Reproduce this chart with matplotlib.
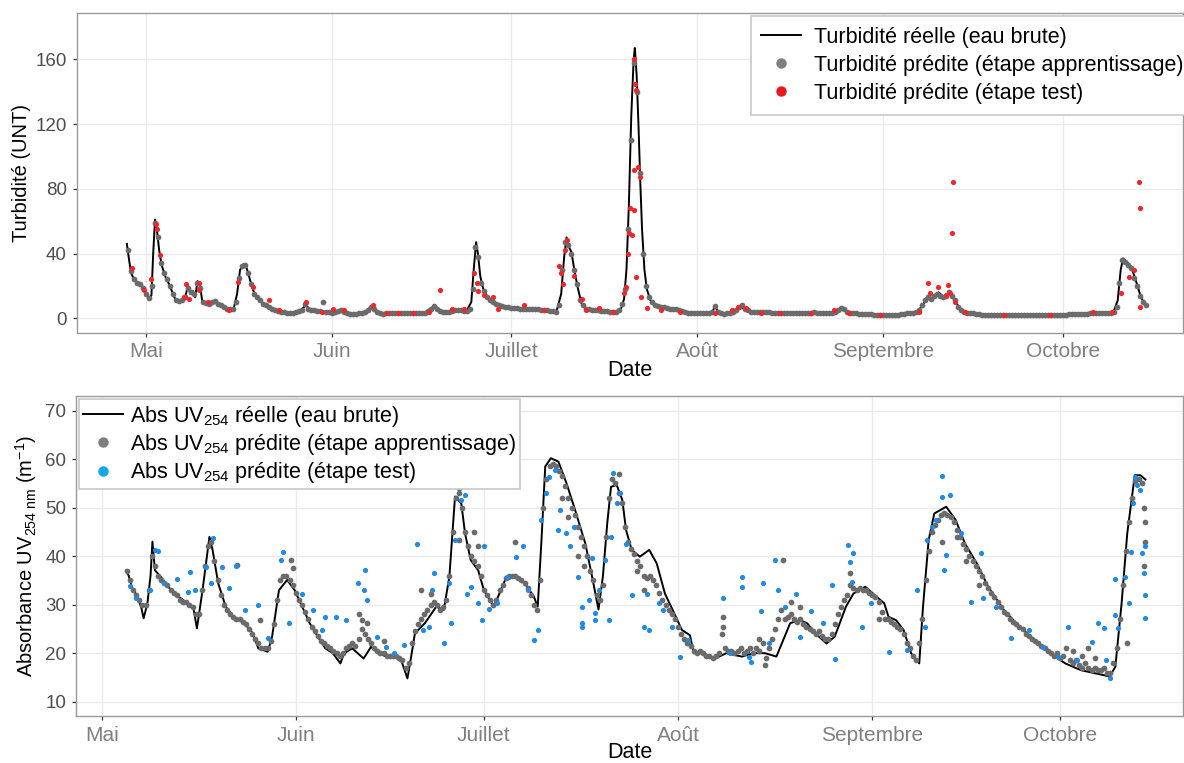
import numpy as np
import matplotlib
matplotlib.use("Agg")
import matplotlib.pyplot as plt
from matplotlib.lines import Line2D

plt.rcParams['font.family'] = ['Liberation Sans', 'DejaVu Sans']
plt.rcParams['mathtext.fontset'] = 'custom'
plt.rcParams['mathtext.rm'] = 'Liberation Sans'
plt.rcParams['mathtext.it'] = 'Liberation Sans:italic'
plt.rcParams['mathtext.bf'] = 'Liberation Sans:bold'

# ---------------- data (x = days since 1 May) ----------------
month_ticks = [0, 31, 61, 92, 123, 153]
month_labels = ["Mai", "Juin", "Juillet", "Août", "Septembre", "Octobre"]

turb_real_days = [-3.2, -2.9, -2.5, -2.0, -1.5, -1.0, -0.5, 0.0, 0.5, 0.9, 1.2, 1.5, 1.8, 2.2, 2.6, 3.2,
                  4.0, 4.6, 5.0, 6.0, 6.6, 7.0, 7.4, 7.8, 8.2, 8.6, 9.0, 9.4, 10.5, 11.4, 12.5, 13.3,
                  14.6, 15.2, 15.7, 16.3, 16.8, 17.5, 18.2, 19.0, 20.3, 21.5, 22.5, 24.0, 25.5, 26.7,
                  27.5, 29.0, 30.0, 31.0, 32.5, 33.5, 35.0, 36.5, 37.5, 38.3, 39.5, 41.0, 43.0, 45.0,
                  46.5, 47.5, 48.2, 49.1, 50.5, 52.0, 53.5, 54.3, 54.7, 55.1, 55.4, 55.8, 56.3, 57.0,
                  58.0, 59.0, 60.0, 61.5, 63.0, 65.0, 67.0, 68.5, 69.3, 69.8, 70.2, 70.6, 71.0, 71.5,
                  72.0, 72.7, 73.5, 75.0, 77.0, 78.5, 79.3, 79.8, 80.2, 80.6, 81.0, 81.4, 81.6, 81.9,
                  82.2, 82.5, 82.8, 83.2, 83.6, 84.2, 85.0, 86.0, 87.0, 88.5, 90.0, 91.5, 93.0, 94.5,
                  95.0, 95.5, 96.5, 98.0, 99.2, 100.0, 101.3, 103.0, 105.0, 107.0, 109.0, 111.0,
                  113.0, 115.0, 116.2, 117.0, 118.5, 120.0, 122.0, 124.0, 126.0, 128.0, 129.0, 129.8,
                  130.5, 131.3, 132.3, 133.2, 134.2, 134.8, 135.5, 136.3, 137.5, 140.0, 143.0, 146.0,
                  149.0, 152.0, 154.0, 156.0, 158.0, 160.0, 161.5, 162.2, 162.7, 163.1, 163.7, 164.4,
                  165.0, 165.5, 166.0, 166.5, 167.0]
turb_real = [46, 38, 28, 24, 22, 20.5, 19, 15, 12.5, 14, 40, 61, 55, 42, 33, 26,
             20, 14, 11, 10.5, 14, 20, 15, 17, 13, 23, 21, 10, 9.5, 10.5, 8, 6,
             5.5, 15, 30, 33.5, 31, 22, 14, 11, 7, 5, 4, 3.5, 4, 8,
             5, 4.5, 4, 3.5, 5, 3, 2.5, 3.5, 7, 5, 2.5, 3, 3, 3,
             3.5, 6, 8, 4, 4, 5, 4.5, 10, 30, 47, 40, 26, 18, 13,
             10, 8, 7, 6.5, 6, 5.5, 5, 4, 15, 38, 50, 44, 41, 30,
             20, 9, 6, 5, 4.5, 4, 6, 12, 30, 70, 125, 160, 167, 150,
             120, 85, 55, 30, 18, 11, 8, 7, 6.5, 5.5, 4, 3, 3, 3.5,
             8, 3.5, 2.5, 3.5, 7.5, 5, 4, 4, 3.5, 3.5, 3, 3.5,
             3, 3.5, 6.5, 4, 3, 2.5, 2, 2, 2.5, 3.5, 5, 9,
             14, 12, 16, 13, 16, 12, 8, 4, 3, 2.5, 2, 2,
             2, 2, 2.5, 2.5, 3, 3, 4, 11, 30, 37, 35, 32,
             26, 20, 14, 10, 8]

# Turbidity: predictions, training stage (every 12 h from day -3)
turb_train_start, turb_train_step = -3.0, 0.5
turb_train = [42, 29, 24, 22, 21, 19, 15, 12.5, 20, 59,
              50, 34, 28, 24, 20, 15, 11, 10.5, 11, 13,
              19, 16, 15, 22, 19, 10, 9.5, 9, 10, 10.5,
              9, 8, 7, 6, 5.5, 5.5, 10, 25, 32, 33,
              28, 21, 15, 13, 11, 9, 8, 7, 5.5, 5,
              4.5, 4, 4, 3.5, 3.5, 3.5, 4, 4.5, 5, 9,
              6, 5, 5, 4.5, 4.5, 10, 4, 4, 3.5, 4,
              4.5, 5, 4, 3, 2.5, 2.5, 2.5, 3, 3, 4,
              5, 7, 6, 4, 3, 2.5, 3, 3, 3, 3,
              3, 3, 3, 3, 3, 3, 3, 3, 3, 3.5,
              4.5, 6, 7.5, 6, 4.5, 4, 4, 4, 4.5, 5,
              5, 5, 4.5, 4.5, 6, 18, 44, 38, 22, 17,
              13, 11, 10, 9, 8, 7.5, 7, 7, 6.5, 6.5,
              6.5, 6, 6, 6, 5.5, 5.5, 5.5, 5.5, 5, 5,
              5, 4.5, 4.5, 4, 8, 30, 47, 45, 40, 30,
              21, 11, 8, 6, 5.5, 5, 5, 5, 4.5, 4.5,
              4.5, 4, 4, 4, 5, 9, 18, 55, 110, 158,
              140, 90, 40, 20, 13, 10, 8, 7.5, 7, 7,
              6.5, 6, 6, 5.5, 5, 4.5, 4, 3.5, 3, 3,
              3, 3, 3, 3, 3.5, 4, 7.5, 4, 3, 2.5,
              3, 3.5, 4, 5, 7, 8, 6, 5, 4, 4,
              4, 4, 4, 4, 4, 3.5, 3.5, 3.5, 3.5, 3.5,
              3.5, 3.5, 3.5, 3.5, 3.5, 3.5, 3.5, 3.5, 3.5, 4,
              3.5, 3, 3, 3, 3.5, 3.5, 4, 5, 6.5, 5.5,
              4, 3.5, 3, 3, 2.5, 2.5, 2.5, 2.5, 2.5, 2,
              2, 2, 2, 2, 2, 2, 2, 2, 2.5, 2.5,
              3, 3, 3.5, 4, 5, 8, 11, 13, 12, 14,
              15, 14, 13, 14, 16, 14, 11, 7, 5, 4,
              3.5, 3, 3, 2.5, 2.5, 2, 2, 2, 2, 2,
              2, 2, 2, 2, 2, 2, 2, 2, 2, 2,
              2, 2, 2, 2, 2, 2, 2, 2, 2, 2,
              2, 2, 2, 2, 2.5, 2.5, 2.5, 2.5, 2.5, 2.5,
              2.5, 3, 3, 3, 3, 3, 3.5, 3.5, 3.5, 4,
              7, 22, 36, 35, 33, 31, 25, 20, 14, 10,
              8]

# Turbidity: predictions, test stage
turb_test_days = [-2.3, -0.4, 0.9, 1.6, 1.9, 2.4, 6.3, 6.6, 7.2, 8.8, 8.8, 10.4, 13.9, 15.3, 17.8,
                  20.6, 22.2, 26.7, 29.3, 31.2, 33.1, 37.9, 40.2, 42.1, 44.6, 47.2, 49.1, 51.0,
                  53.0, 54.8, 55.2, 55.5, 56.4, 58.0, 58.7, 63.1, 66.4, 68.9, 69.2, 69.6, 69.9,
                  70.2, 71.5, 72.7, 73.4, 75.6, 77.9, 79.8, 80.1, 80.5, 80.6, 80.8, 81.2, 81.4,
                  81.4, 81.5, 81.6, 81.8, 82.1, 82.5, 82.7, 81.8, 83.7, 85.9, 89.1, 94.9, 97.8,
                  98.8, 100.1, 102.7, 105.9, 111.0, 114.9, 117.4, 122.6, 129.0, 130.6, 130.9,
                  132.2, 133.5, 133.8, 134.2, 134.7, 134.6, 135.1, 136.7, 143.2, 150.9, 158.0,
                  161.2, 162.8, 164.1, 165.0, 165.7, 165.9, 166.0]
turb_test = [31, 17.5, 24.5, 58, 55, 39, 13, 21, 12, 22, 17.5, 10, 5, 22.6, 19.5,
             11.3, 5, 10, 4, 6, 5, 8, 3, 3, 3, 4, 17.5, 6,
             6, 28, 21.6, 17, 14.5, 13, 6, 8, 5, 32, 28, 21, 42.5,
             48.5, 26, 12, 5, 6.2, 4.1, 15.4, 19.5, 40, 52.5, 67.9, 51.4, 66.9,
             91.6, 160, 145, 141, 93.7, 87.5, 13.4, 25.7, 6.2, 5.1, 4.1, 3, 5.1,
             7.2, 6.2, 3, 3, 3, 5.1, 3, 2, 4.1, 21.6, 15.4,
             19.5, 14.4, 20.6, 15.4, 84.4, 52.5, 10.3, 4.1, 2, 2, 4.1,
             4.1, 15.4, 25.7, 29.8, 84, 67.9, 7.2]

uv_real_days = [3.9, 4.3, 4.8, 5.7, 6.3, 6.7, 7.3, 7.8, 8.1, 8.5, 9.4, 10.6, 11.9, 13.7, 14.6, 15.2,
                16.1, 17.2, 17.7, 18.6, 19.8, 21.0, 22.8, 24.1, 25.0, 26.5, 27.2, 28.3, 29.6, 30.8,
                32.0, 33.2, 34.5, 35.7, 36.9, 38.1, 38.7, 40.0, 41.8, 43.0, 44.2, 45.4, 46.7, 47.9,
                48.8, 49.4, 50.0, 51.6, 53.4, 54.6, 55.5, 56.4, 57.4, 58.0, 58.9, 60.1, 61.0, 62.6,
                64.4, 66.2, 67.7, 69.0, 69.6, 70.2, 70.8, 71.7, 72.9, 74.2, 75.4, 77.2, 78.4, 79.3,
                80.0, 80.7, 81.3, 82.2, 83.1, 83.7, 84.6, 85.9, 87.4, 88.6, 89.9, 91.4, 92.6, 93.9,
                94.5, 96.0, 97.9, 99.7, 102.2, 104.0, 105.9, 107.7, 109.0, 109.9, 111.4, 112.6,
                113.9, 115.7, 117.0, 118.8, 120.0, 121.9, 123.1, 124.9, 125.6, 126.8, 128.0, 129.2,
                130.5, 131.1, 132.0, 132.9, 134.8, 136.3, 137.8, 139.7, 141.5, 144.0, 146.5, 148.9,
                151.4, 153.8, 156.3, 158.8, 160.9, 161.8, 162.8, 163.7, 164.9, 165.8, 166.6]
uv_real = [37.1, 36, 33.7, 31.6, 29.5, 27.2, 30.3, 36, 43, 37.1, 35.8, 33.7, 32, 30.3, 29.6, 25.1,
           33, 44, 41.3, 34.4, 29.6, 27.5, 26.2, 24.1, 21, 20.3, 23.4, 33, 35.1, 33,
           29.6, 26.2, 23.4, 21, 20, 17.9, 20, 21, 18.9, 21.3, 20, 19.3, 19.3, 18.2,
           14.8, 19.3, 24.1, 26.2, 29.6, 28.9, 35.8, 52.3, 50.9, 44.7, 39.2, 37.1, 33, 29.6,
           35.1, 35.8, 34.1, 31.6, 29.6, 43.3, 58.5, 60.2, 59.5, 55, 50.2, 42.6, 35, 29,
           35.8, 46.8, 54.3, 54.7, 51.6, 45.4, 41.3, 39.9, 41.3, 38.5, 32.3, 28.2, 24.8, 23.7,
           20, 20, 18.9, 20, 19.3, 20, 20, 19.3, 23.4, 26.2, 26.8, 26.2,
           24.1, 22, 23.4, 29.6, 32.3, 33.7, 32.3, 30.3, 27.5, 26.8, 24.8, 20,
           17.9, 29.6, 43.3, 48.8, 50.2, 47.5, 42.6, 38.5, 33.7, 28.9, 25.5, 22.7,
           20, 17.9, 16.5, 15.8, 15.2, 17.2, 30.3, 44.7, 56.7, 56.7, 55.8]

# UV254 absorbance: predictions, training stage (every 12 h from day 4)
uv_train_start, uv_train_step = 4.0, 0.5
uv_train = [37, 35, 33, 32, 31, 30, 30, 33, 40, 38,
            36, 35, 34.5, 34, 33, 32.5, 32, 31, 30.5, 30.5,
            30, 29.5, 28, 28, 33, 38, 42, 43, 39, 35,
            32, 30, 29, 28, 27.5, 27, 27, 26.5, 26, 25,
            24, 23, 22, 21, 21, 21, 22.5, 26, 31, 35,
            36, 36, 35, 34, 32.5, 31, 30, 28.5, 27, 25.5,
            24.5, 23.5, 22.5, 22, 21.5, 21, 20.5, 20, 19.5, 20,
            21, 21.5, 22, 21.5, 23, 25, 24, 23, 22, 21,
            20.5, 20, 20, 19.5, 19.5, 19.5, 19.5, 19, 18.5, 17,
            18, 22, 24.5, 26, 27, 28, 29, 30, 30.5, 30,
            29, 29.5, 31, 36, 45, 52, 53, 50, 45, 42,
            40, 39, 38, 36, 33, 32, 31, 30, 31, 33,
            34, 35.5, 36, 36, 36, 35.5, 35, 34.5, 33.5, 32,
            30, 29, 35, 50, 56, 58.5, 59, 58.5, 57.5, 56.5,
            54.5, 52, 50, 48.5, 46, 44, 42, 40, 37, 35,
            32, 31, 34, 44, 52, 56, 55, 53, 51, 46,
            43, 41.5, 40.5, 39, 38, 36, 35.5, 36, 35, 34,
            32.5, 31, 30, 29, 28, 27, 25.5, 24, 23, 22,
            21.5, 20.5, 20, 20.5, 20, 19.5, 19.5, 19, 19.5, 20,
            24, 21, 20.5, 20.5, 20, 20.5, 21, 20, 20.5, 21,
            20, 21, 20.5, 22, 19, 21, 23, 25, 27, 29,
            27, 27.5, 28, 27, 26.5, 27, 26, 25.5, 25, 24.5,
            24, 24.5, 23.5, 23, 23, 24, 26, 28, 29.5, 31,
            32, 34, 33.5, 33, 33.5, 33, 33, 32.5, 32, 31.5,
            30.5, 28.5, 27, 27, 26.5, 26, 25.5, 25, 24, 22,
            21, 19.5, 18.5, 22, 27, 35, 41, 45, 46.5, 47.5,
            48.5, 49, 48.5, 48, 47, 45.5, 44, 42.5, 41.5, 40,
            39, 38, 37, 36, 34.5, 33.5, 32.5, 31.5, 30.5, 29.5,
            28.5, 28, 27, 26.5, 26, 25.5, 25, 24, 23.5, 23,
            22.5, 22, 21.5, 21, 20.5, 20, 19.5, 20, 19, 19.5,
            21, 18.5, 18, 18.5, 17.5, 17, 18, 17, 16.5, 17,
            16.5, 16.5, 17, 16, 16, 18, 21, 27, 34, 41,
            47, 52, 55.5, 56, 55, 47]

# UV254: additional training-stage predictions off the main band
uv_train_extra_days = [21.6, 25.3, 30.2, 30.5, 41.5, 42.4, 41.0, 45.0, 50.9, 52.5, 57.1, 57.1, 59.5,
                       60.0, 65.9, 73.5, 74.5, 76.0, 77.0, 82.5, 85.5, 86.5, 99.1, 99.1, 104.9,
                       105.9, 108.8, 110.0, 111.5, 119.4, 124.0, 134.2, 136.5, 138.0, 140.0, 155.0,
                       156.5, 157.5, 158.5, 163.7, 166.3, 166.5, 166.4]
uv_train_extra = [38.2, 26.8, 39.2, 37.5, 26.8, 26.2, 28, 22.5, 33, 32.3, 54.0, 43.3, 45,
                  42, 43, 52, 48, 40, 38, 57, 37, 33, 27.5, 25.5, 23,
                  17.6, 39.2, 30.5, 29.5, 36.5, 27, 43, 44, 39, 34, 20.5,
                  19.5, 21, 19, 22, 50, 43, 38]

# UV254: predictions, test stage
uv_test_days = [4.5, 5.4, 7.7, 8.5, 9.0, 10.0, 12.0, 14.1, 13.7, 14.9, 16.7, 17.5, 17.7, 19.2, 20.4,
                21.4, 22.8, 25.0, 26.5, 29.0, 28.7, 29.9, 32.0, 33.8, 35.1, 35.7, 37.4, 39.0,
                40.9, 41.8, 42.1, 42.4, 43.9, 45.4, 46.7, 48.2, 50.3, 51.3, 52.2, 52.8, 53.1,
                54.6, 55.5, 55.8, 56.4, 57.4, 58.0, 58.3, 58.9, 60.1, 61.0, 60.7, 61.9, 63.1,
                64.7, 66.2, 67.2, 68.1, 69.0, 69.6, 70.2, 71.0, 71.4, 72.3, 72.9, 73.2, 74.1,
                74.8, 75.4, 76.0, 76.6, 76.6, 77.8, 78.7,
                76.7, 78.2, 78.8, 79.4, 80.3, 81.0, 81.3, 81.6, 82.2, 82.8, 83.7, 84.6, 86.5,
                87.1, 87.4, 89.0, 89.6, 91.1, 92.3, 93.6, 99.1, 100.3, 102.2, 102.2, 103.4,
                103.7, 105.3, 105.6, 106.5, 107.4, 108.0, 109.0, 110.8, 111.4, 113.3, 115.1,
                116.6, 117.0, 119.1, 119.4, 120.0, 119.7, 121.3, 122.8, 125.6, 128.6, 130.2,
                131.4, 131.7, 132.6, 133.2, 134.2, 134.2, 134.8, 134.5, 135.4, 137.2, 138.8,
                140.3, 140.6, 142.8, 145.2, 148.0, 150.2, 152.6, 154.2, 155.7, 158.1, 159.1,
                160.0, 160.3, 160.9, 161.8, 161.8, 162.2, 163.4, 164.0, 164.3, 164.6, 164.9,
                165.2, 165.8, 166.1, 166.3, 166.5, 166.5, 166.5]
uv_test = [33.8, 31.3, 33, 41.3, 41.0, 34.4, 35.4, 36.7, 32.7, 33, 37.8, 34.4, 43.7, 37.8, 33.4,
           38.0, 28.9, 29.9, 23.1, 40.9, 39.2, 26.2, 32.3, 28.9, 24.8, 27.5, 27.5, 26.8,
           34.4, 33, 37.1, 31, 23.4, 21.3, 20, 21.7, 42.6, 24.8, 25.5, 33, 36.5,
           22, 34.4, 26.2, 43.3, 51.6, 52.6, 32.3, 33.7, 30.3, 42, 26.8, 29.2, 30.3,
           35.8, 39.9, 42, 33, 22.7, 24.8, 47.5, 53, 56.4, 57.8, 45.4, 49.5, 44.7,
           42, 46.1, 35.8, 29.6, 25.5, 31, 28.2,
           26.2, 39.6, 26.8, 33, 39.2, 26.8, 44, 57.1, 50.9, 53, 42.6, 32, 25.5,
           32.3, 24.8, 30.3, 28.9, 25.5, 19.3, 22.7, 31.3, 20, 35.8, 33.7, 19.3,
           18.2, 28.6, 34.5, 22, 39.3, 33, 29.6, 32.3, 23.4, 28.6, 26.2,
           34.1, 18.9, 42.3, 38.9, 40.6, 34.7, 25.5, 30.3, 20.3, 20.7, 33,
           25.5, 43.3, 46.1, 47.5, 56.5, 52.3, 40.2, 37.1, 52.6, 44.7, 30.6,
           40.6, 31.3, 29.6, 23.1, 24.8, 21.3, 19.3, 25.5, 18.6, 22.4, 26.2,
           25.1, 18.6, 14.8, 35.4, 27.9, 25.1, 35.8, 30.3, 40.9, 50.9, 56.4,
           54.7, 53.6, 40.6, 36.5, 42, 32, 27.2]

# ---------------- styling ----------------
W, H = 1184, 763
COL_TRAIN = '#6B6B6B'
COL_RED = '#F0262B'
COL_BLUE = '#2189E6'
GRID = '#EBEBEB'
SPINE = '#9A9A9A'
PT = 17


def style_axes(ax):
    ax.set_facecolor('white')
    ax.grid(True, color=GRID, lw=1.0, zorder=0)
    ax.set_axisbelow(True)
    for s in ax.spines.values():
        s.set_color(SPINE)
        s.set_linewidth(1.0)
    ax.tick_params(axis='both', length=3, width=0.9, color='#333333', pad=4)
    ax.tick_params(axis='y', labelsize=13.5, labelcolor='#4D4D4D')
    ax.tick_params(axis='x', labelsize=15, labelcolor='#808080')
    ax.set_xticks(month_ticks)
    ax.set_xticklabels(month_labels)


fig = plt.figure(figsize=(W / 100, H / 100), dpi=100)
fig.patch.set_facecolor('white')

# ---- top panel: turbidity
ax1 = fig.add_axes([76.7 / W, 1 - 332.7 / H, (1183 - 76.7) / W, (332.7 - 12.7) / H])
style_axes(ax1)
ax1.plot(turb_real_days, turb_real, color='black', lw=1.4, zorder=2)
t_days = turb_train_start + turb_train_step * np.arange(len(turb_train))
ax1.scatter(t_days, turb_train, s=PT, color=COL_TRAIN, lw=0, zorder=3)
ax1.scatter(turb_test_days, turb_test, s=PT - 3, color=COL_RED, lw=0, zorder=4)
ax1.set_xlim(-11.57, 173.1)
ax1.set_ylim(-8.9, 188.8)
ax1.set_yticks([0, 40, 80, 120, 160])
ax1.set_ylabel("Turbidité (UNT)", fontsize=14.5, color='black', va='center', ha='center')
ax1.yaxis.set_label_coords(-(76.7 - 21.5) / (1183 - 76.7), 0.5)
ax1.set_xlabel("Date", fontsize=15.5, color='black', va='center')
ax1.xaxis.set_label_coords(0.5, -(370.5 - 332.7) / 320.0)

h_line = Line2D([], [], color='black', lw=1.4)
h_gray = Line2D([], [], ls='none', marker='o', ms=7.5, color='#7F7F7F', mec='none')
h_red = Line2D([], [], ls='none', marker='o', ms=7.5, color='#E8191E', mec='none')
leg1 = ax1.legend([h_line, h_gray, h_red],
                  ["Turbidité réelle (eau brute)",
                   "Turbidité prédite (étape apprentissage)",
                   "Turbidité prédite (étape test)"],
                  loc='upper left', bbox_to_anchor=(750.6 / W, 1 - 16 / H),
                  bbox_transform=fig.transFigure, borderaxespad=0,
                  fontsize=15.5, frameon=True, fancybox=False, framealpha=1,
                  edgecolor='#C8C8C8', handlelength=1.85, handletextpad=0.6,
                  labelspacing=0.33, borderpad=0.5)
leg1.get_frame().set_linewidth(1.2)

# ---- bottom panel: UV254 absorbance
ax2 = fig.add_axes([76 / W, 1 - 716 / H, (1183 - 76) / W, (716 - 396) / H])
style_axes(ax2)
ax2.plot(uv_real_days, uv_real, color='black', lw=1.4, zorder=2)
u_days = uv_train_start + uv_train_step * np.arange(len(uv_train))
ax2.scatter(u_days, uv_train, s=PT, color=COL_TRAIN, lw=0, zorder=3)
ax2.scatter(uv_train_extra_days, uv_train_extra, s=PT, color=COL_TRAIN, lw=0, zorder=3)
ax2.scatter(uv_test_days, uv_test, s=PT - 3, color=COL_BLUE, lw=0, zorder=4)
ax2.set_xlim(-4.10, 172.6)
ax2.set_ylim(7.05, 73.03)
ax2.set_yticks([10, 20, 30, 40, 50, 60, 70])
ax2.set_ylabel(r"Absorbance UV$_{\mathrm{254\ nm}}$ (m$^{\mathrm{-1}}$)", fontsize=14.5,
               color='black', va='center', ha='center')
ax2.yaxis.set_label_coords(-(76 - 26) / (1183 - 76), 0.5)
ax2.set_xlabel("Date", fontsize=15.5, color='black', va='center')
ax2.xaxis.set_label_coords(0.5, -(752 - 716) / 320.0)

h_blue = Line2D([], [], ls='none', marker='o', ms=7.5, color='#13A6EA', mec='none')
leg2 = ax2.legend([h_line, h_gray, h_blue],
                  [r"Abs UV$_{\mathrm{254}}$ réelle (eau brute)",
                   r"Abs UV$_{\mathrm{254}}$ prédite (étape apprentissage)",
                   r"Abs UV$_{\mathrm{254}}$ prédite (étape test)"],
                  loc='upper left', bbox_to_anchor=(79 / W, 1 - 399.3 / H),
                  bbox_transform=fig.transFigure, borderaxespad=0,
                  fontsize=15.5, frameon=True, fancybox=False, framealpha=1,
                  edgecolor='#C8C8C8', handlelength=1.85, handletextpad=0.3,
                  labelspacing=0.15, borderpad=0.2)
leg2.get_frame().set_linewidth(1.2)

fig.savefig("out.png", dpi=100, facecolor='white')
